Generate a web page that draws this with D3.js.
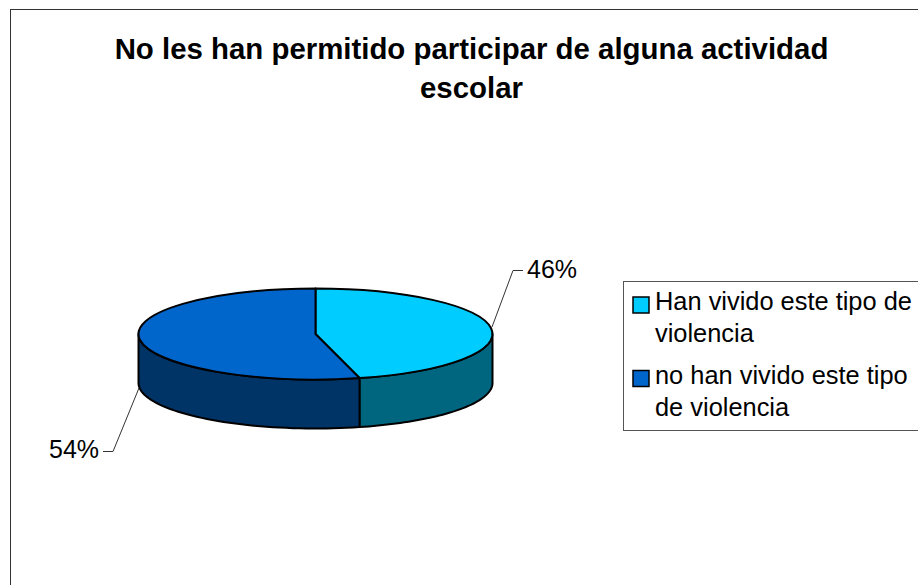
<!DOCTYPE html>
<html>
<head>
<meta charset="utf-8">
<script src="https://cdn.jsdelivr.net/npm/d3@7"></script>
<style>
    html, body { margin: 0; padding: 0; background: #fff; }
    svg { display: block; }
    text { font-family: "Liberation Sans", Arial, sans-serif; fill: #000; }
</style>
</head>
<body>
<svg id="chart" width="918" height="585"></svg>
<script>
const titleLines = ["No les han permitido participar de alguna actividad", "escolar"];
const categories = ["Han vivido este tipo de violencia", "no han vivido este tipo de violencia"];
const values = [46, 54];
const pctLabels = ["46%", "54%"];
const legendLines = [["Han vivido este tipo de", "violencia"], ["no han vivido este tipo", "de violencia"]];
const topColors = ["#00ccff", "#0066cc"];
const sideColors = ["#006680", "#003366"];

const width = 918, height = 585;
const cx = 315.5, cy = 334, rx = 177, ry = 45.5, depth = 49;

let svg = d3.select("#chart");

// chart frame, runs off the right and bottom of the picture
svg.append("rect")
    .attr("x", 10.5).attr("y", 9.5)
    .attr("width", width).attr("height", height)
    .attr("fill", "#fff").attr("stroke", "#333").attr("stroke-width", 1);

svg.selectAll("text.title")
    .data(titleLines)
    .enter().append("text")
    .attr("class", "title")
    .attr("x", 471.5)
    .attr("y", function(d, i) { return 59 + i * 39; })
    .attr("text-anchor", "middle")
    .style("font-size", "29.4px")
    .style("font-weight", "bold")
    .text(function(d) { return d; });

let pie = d3.pie().sort(null)(values);

// pie angle 0 is at the top, going clockwise
function px(a) { return cx + rx * Math.sin(a); }
function py(a) { return cy - ry * Math.cos(a); }

function sidePath(start, end) {
    // only the front half of the ellipse shows a wall
    let a0 = Math.max(start, Math.PI / 2);
    let a1 = Math.min(end, Math.PI * 1.5);
    if (a1 <= a0) return null;
    let steps = d3.range(0, 49).map(function(i) { return a0 + (a1 - a0) * i / 48; });
    let pts = steps.map(function(a) { return [px(a), py(a)]; })
        .concat(steps.slice().reverse().map(function(a) { return [px(a), py(a) + depth]; }));
    return d3.line()(pts) + "Z";
}

svg.append("g")
    .selectAll("path")
    .data(pie)
    .enter().append("path")
    .attr("d", function(d) { return sidePath(d.startAngle, d.endAngle); })
    .attr("fill", function(d, i) { return sideColors[i]; })
    .attr("stroke", "#000")
    .attr("stroke-width", 2)
    .attr("stroke-linejoin", "round");

// top face: circular arc squashed into an ellipse
let arc = d3.arc().innerRadius(0).outerRadius(rx);
svg.append("g")
    .attr("transform", "translate(" + cx + "," + cy + ") scale(1," + (ry / rx) + ")")
    .selectAll("path")
    .data(pie)
    .enter().append("path")
    .attr("d", arc)
    .attr("fill", function(d, i) { return topColors[i]; })
    .attr("stroke", "#000")
    .attr("stroke-width", 2)
    .attr("vector-effect", "non-scaling-stroke")
    .attr("stroke-linejoin", "round");

// leader lines and percent labels
let leaders = [
    [[492, 327], [513, 270.5], [523, 270.5]],
    [[139, 388], [113, 451.5], [103, 451.5]]
];
svg.append("g")
    .selectAll("path")
    .data(leaders)
    .enter().append("path")
    .attr("d", d3.line())
    .attr("fill", "none")
    .attr("stroke", "#333")
    .attr("stroke-width", 1);

svg.selectAll("text.pct")
    .data(pctLabels)
    .enter().append("text")
    .attr("class", "pct")
    .attr("x", function(d, i) { return i === 0 ? 527 : 49; })
    .attr("y", function(d, i) { return i === 0 ? 278 : 458; })
    .style("font-size", "25px")
    .text(function(d) { return d; });

// legend
svg.append("rect")
    .attr("x", 623.5).attr("y", 281.5)
    .attr("width", 310).attr("height", 149)
    .attr("fill", "#fff").attr("stroke", "#555").attr("stroke-width", 1);

let legend = svg.append("g").selectAll("g")
    .data(categories)
    .enter().append("g")
    .attr("transform", function(d, i) { return "translate(0," + (i * 73.5) + ")"; });

legend.append("rect")
    .attr("x", 633).attr("y", 297)
    .attr("width", 16).attr("height", 16)
    .attr("fill", function(d, i) { return topColors[i]; })
    .attr("stroke", "#000")
    .attr("stroke-width", 1.5);

legend.each(function(d, i) {
    d3.select(this).selectAll("text")
        .data(legendLines[i])
        .enter().append("text")
        .attr("x", 655)
        .attr("y", function(t, j) { return 310 + j * 32; })
        .style("font-size", "25.4px")
        .text(function(t) { return t; });
});
</script>
</body>
</html>
